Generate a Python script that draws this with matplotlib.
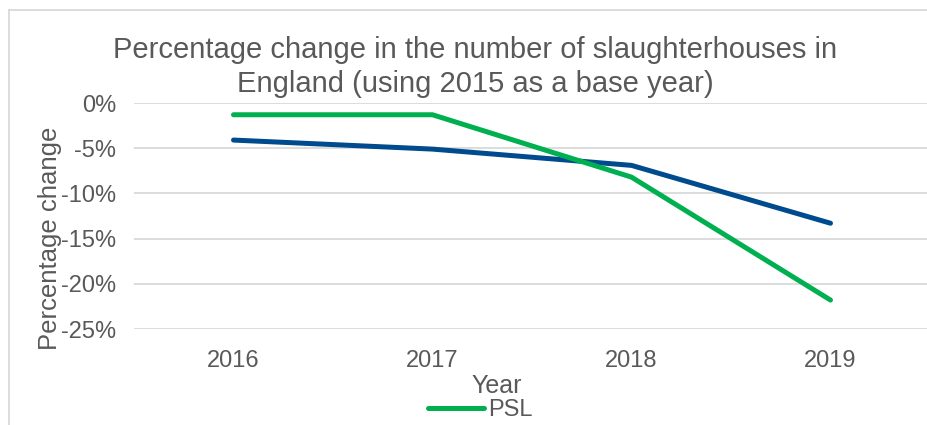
import matplotlib.pyplot as plt
from matplotlib.lines import Line2D
from matplotlib.ticker import FuncFormatter

plt.rcParams['font.family'] = ['Liberation Sans', 'DejaVu Sans']

# values (percent change vs 2015)
years = ["2016", "2017", "2018", "2019"]
other_change = [-4.1, -5.1, -6.9, -13.3]
psl_change = [-1.3, -1.3, -8.2, -21.8]
psl_label = "PSL"

grey_text = "#595959"
grid_col = "#d9d9d9"

fig = plt.figure(figsize=(9.28, 4.25), dpi=100)
W, H = 928, 425

# axes box in pixels: left 134, right 930, top 103, bottom 329
ax = fig.add_axes([134 / W, 1 - 329 / H, (930 - 134) / W, (329 - 103) / H])

x = range(len(years))
ax.plot(x, other_change, color="#004b8d", lw=3.6, solid_capstyle="round",
        label="_nolegend_")
ax.plot(x, psl_change, color="#00b050", lw=3.6, solid_capstyle="round",
        label=psl_label)

ax.set_xlim(-0.5, len(years) - 0.5)
ax.set_ylim(-25, 0)
ax.set_yticks([0, -5, -10, -15, -20, -25])
ax.yaxis.set_major_formatter(FuncFormatter(lambda v, p: f"{v:.0f}%"))
ax.set_xticks(list(x))
ax.set_xticklabels(years)
ax.tick_params(axis="both", length=0, labelsize=17, labelcolor=grey_text)
ax.tick_params(axis="x", pad=15)
ax.tick_params(axis="y", pad=13)

ax.grid(axis="y", color=grid_col, lw=1.3)
ax.set_axisbelow(True)
for s in ax.spines.values():
    s.set_visible(False)

# titles placed like the original
fig.text(475 / W, 1 - 67 / H,
         "Percentage change in the number of slaughterhouses in\nEngland (using 2015 as a base year)",
         ha="center", va="center", fontsize=21, color=grey_text, linespacing=1.28)
fig.text(50 / W, 1 - 238 / H, "Percentage change", rotation=90,
         ha="center", va="center", fontsize=18.5, color=grey_text)
fig.text(497 / W, 1 - 386 / H, "Year", ha="center", va="center",
         fontsize=18, color=grey_text)

leg = fig.legend(handles=[Line2D([], [], color="#00b050", lw=3.6,
                                 solid_capstyle="round")],
                 labels=[psl_label], loc="center", bbox_to_anchor=(480 / W, 1 - 410 / H),
                 frameon=False, fontsize=17, handlelength=2.4, handletextpad=0.15,
                 borderpad=0, labelcolor=grey_text)

# outer chart border (only top and left visible in the crop)
fig.add_artist(Line2D([9 / W, 9 / W], [0, 1 - 10 / H], color=grid_col, lw=1.3))
fig.add_artist(Line2D([9 / W, 1], [1 - 10 / H, 1 - 10 / H], color=grid_col, lw=1.3))

fig.savefig("out.png", dpi=100)
